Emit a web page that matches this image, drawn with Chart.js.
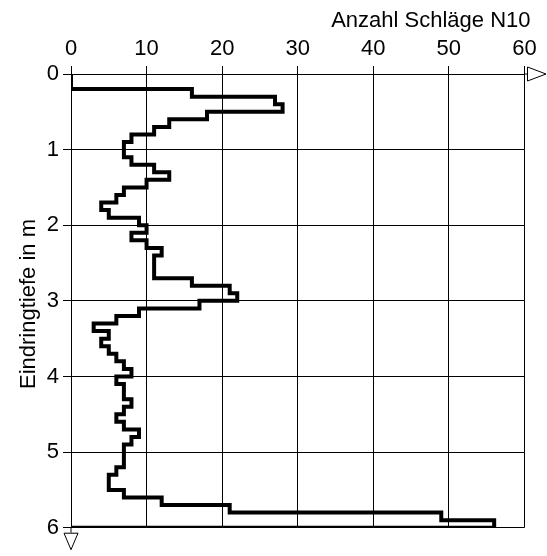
<!DOCTYPE html>
<html>
<head>
<meta charset="utf-8">
<script src="https://cdn.jsdelivr.net/npm/chart.js@4/dist/chart.umd.min.js"></script>
<style>
  html, body { margin: 0; padding: 0; background: #fff; }
  #wrap { width: 547px; height: 556px; }
</style>
</head>
<body>
<div id="wrap"><canvas id="chart"></canvas></div>
<script>
// depth boundaries of each 10 cm interval (m)
const depthBounds = [
  0.0, 0.1, 0.2, 0.3, 0.4, 0.5, 0.6, 0.7, 0.8, 0.9,
  1.0, 1.1, 1.2, 1.3, 1.4, 1.5, 1.6, 1.7, 1.8, 1.9,
  2.0, 2.1, 2.2, 2.3, 2.4, 2.5, 2.6, 2.7, 2.8, 2.9,
  3.0, 3.1, 3.2, 3.3, 3.4, 3.5, 3.6, 3.7, 3.8, 3.9,
  4.0, 4.1, 4.2, 4.3, 4.4, 4.5, 4.6, 4.7, 4.8, 4.9,
  5.0, 5.1, 5.2, 5.3, 5.4, 5.5, 5.6, 5.7, 5.8, 5.9,
  6.0
];
// blows N10 per interval
const blows = [
  0, 0, 16, 27, 28, 18, 13, 11, 8, 7,
  7, 8, 11, 13, 10, 7, 6, 4, 5, 9,
  10, 8, 10, 12, 11, 11, 11, 16, 21, 22,
  17, 9, 6, 3, 5, 4, 5, 6, 7, 8,
  6, 7, 7, 8, 7, 6, 7, 9, 8, 7,
  7, 7, 6, 5, 5, 7, 12, 21, 49, 56
];
const blowTicks = [0, 10, 20, 30, 40, 50, 60];
const depthTicks = [0, 1, 2, 3, 4, 5, 6];
const xTitle = 'Anzahl Schläge N10';
const yTitle = 'Eindringtiefe in m';

const FONT = '"Liberation Sans", Arial, sans-serif';

// step profile: vertical at each value, horizontal between intervals
const points = [{ x: 0, y: depthBounds[0] }];
blows.forEach((n, i) => {
  points.push({ x: n, y: depthBounds[i] });
  points.push({ x: n, y: depthBounds[i + 1] });
});
points.push({ x: 0, y: depthBounds[depthBounds.length - 1] });

// axis titles + small arrow heads at the axis ends
const axisDecor = {
  id: 'axisDecor',
  afterDraw(chart) {
    const { ctx, chartArea } = chart;
    const { left, top, right, bottom } = chartArea;
    ctx.save();
    ctx.fillStyle = '#000';
    ctx.font = '22px ' + FONT;
    ctx.textAlign = 'right';
    ctx.textBaseline = 'alphabetic';
    ctx.fillText(xTitle, 530.5, 27);

    ctx.save();
    ctx.translate(35, 304);
    ctx.rotate(-Math.PI / 2);
    ctx.textAlign = 'center';
    ctx.fillText(yTitle, 0, 0);
    ctx.restore();

    ctx.strokeStyle = '#000';
    ctx.fillStyle = '#fff';
    ctx.lineWidth = 1;
    // x axis arrow
    ctx.beginPath();
    ctx.moveTo(right, top);
    ctx.lineTo(527, top);
    ctx.stroke();
    ctx.beginPath();
    ctx.moveTo(527.5, top - 7);
    ctx.lineTo(546, top);
    ctx.lineTo(527.5, top + 7);
    ctx.closePath();
    ctx.fill();
    ctx.stroke();
    // y axis arrow
    ctx.beginPath();
    ctx.moveTo(left, bottom);
    ctx.lineTo(left, bottom + 5);
    ctx.stroke();
    ctx.beginPath();
    ctx.moveTo(left - 7, bottom + 5.5);
    ctx.lineTo(left + 7, bottom + 5.5);
    ctx.lineTo(left, bottom + 22);
    ctx.closePath();
    ctx.fill();
    ctx.stroke();
    ctx.restore();
  }
};

new Chart(document.getElementById('chart'), {
  type: 'line',
  data: {
    datasets: [{
      data: points,
      borderColor: '#000',
      borderWidth: 4,
      borderJoinStyle: 'miter',
      borderCapStyle: 'square',
      pointRadius: 0,
      fill: false,
      tension: 0
    }]
  },
  options: {
    responsive: true,
    maintainAspectRatio: false,
    animation: false,
    layout: {
      padding: { top: 0, left: 0, right: 22.6, bottom: 28.3 }
    },
    plugins: {
      legend: { display: false },
      tooltip: { enabled: false }
    },
    scales: {
      x: {
        type: 'linear',
        position: 'top',
        min: 0,
        max: 60,
        afterFit: (scale) => { scale.height = 74; },
        afterBuildTicks: (scale) => { scale.ticks = blowTicks.map(v => ({ value: v })); },
        ticks: {
          color: '#000',
          padding: 4,
          font: { family: FONT, size: 22 }
        },
        grid: { color: '#000', lineWidth: 1, tickLength: 8 },
        border: { display: true, color: '#000', width: 1 }
      },
      y: {
        type: 'linear',
        reverse: true,
        min: 0,
        max: 6,
        afterFit: (scale) => { scale.width = 71; },
        afterBuildTicks: (scale) => { scale.ticks = depthTicks.map(v => ({ value: v })); },
        ticks: {
          color: '#000',
          padding: 4,
          font: { family: FONT, size: 22 }
        },
        grid: { color: '#000', lineWidth: 1, tickLength: 8 },
        border: { display: true, color: '#000', width: 1 }
      }
    }
  },
  plugins: [axisDecor]
});
</script>
</body>
</html>
